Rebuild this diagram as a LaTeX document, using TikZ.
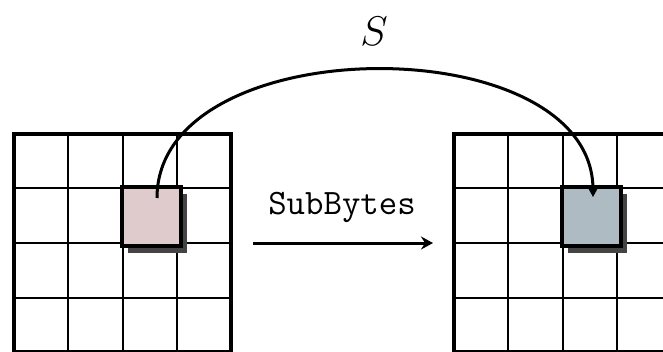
\documentclass[tikz,border=0pt]{standalone}
\usetikzlibrary{arrows.meta,shadows}
\definecolor{pinkc}{HTML}{DFCBCB}
\definecolor{bluec}{HTML}{AEBBC3}
\definecolor{shadowc}{HTML}{444444}
\begin{document}
\begin{tikzpicture}[x=0.5pt,y=-0.5pt,
  gridline/.style={line width=1pt},
  gridframe/.style={line width=2pt},
  cellbox/.style={draw, line width=2pt, minimum size=29.5pt, inner sep=0pt,
    drop shadow={shadow xshift=3.2pt, shadow yshift=-3.4pt, fill=shadowc, opacity=1}},
  arr/.style={line width=1.5pt, -{Stealth[length=6pt,width=6.5pt,inset=2pt]}}]
\useasboundingbox (0,0) rectangle (663,352);
\clip (0,0) rectangle (663,352);
% left grid
\foreach \i in {1,2,3} {
  \draw[gridline] (14+54.25*\i,134) -- (14+54.25*\i,352);
  \draw[gridline] (14,134+54.5*\i) -- (231,134+54.5*\i);
}
\draw[gridframe] (14,134) rectangle (231,352);
% right grid
\foreach \i in {1,2,3} {
  \draw[gridline] (454+54.25*\i,134) -- (454+54.25*\i,352);
  \draw[gridline] (454,134+54.5*\i) -- (671,134+54.5*\i);
}
\draw[gridframe] (454,134) rectangle (671,352);
% highlighted cells
\node[cellbox, fill=pinkc] (src) at (151,216.5) {};
\node[cellbox, fill=bluec] (dst) at (591,216.5) {};
\coordinate (s0) at (157,198);
\coordinate (s1) at (593,197);
\draw[arr] (s0) to[out=90,in=90] (s1);
\node (S) at (374,31) {\fontsize{22}{26}\selectfont $S$};
\node[font=\fontsize{17.9}{20}\selectfont\ttfamily] (lbl) at (342,207) {SubBytes};
\coordinate (a0) at (253,243);
\coordinate (a1) at (433,243);
\draw[arr] (a0) -- (a1);
\end{tikzpicture}
\end{document}
